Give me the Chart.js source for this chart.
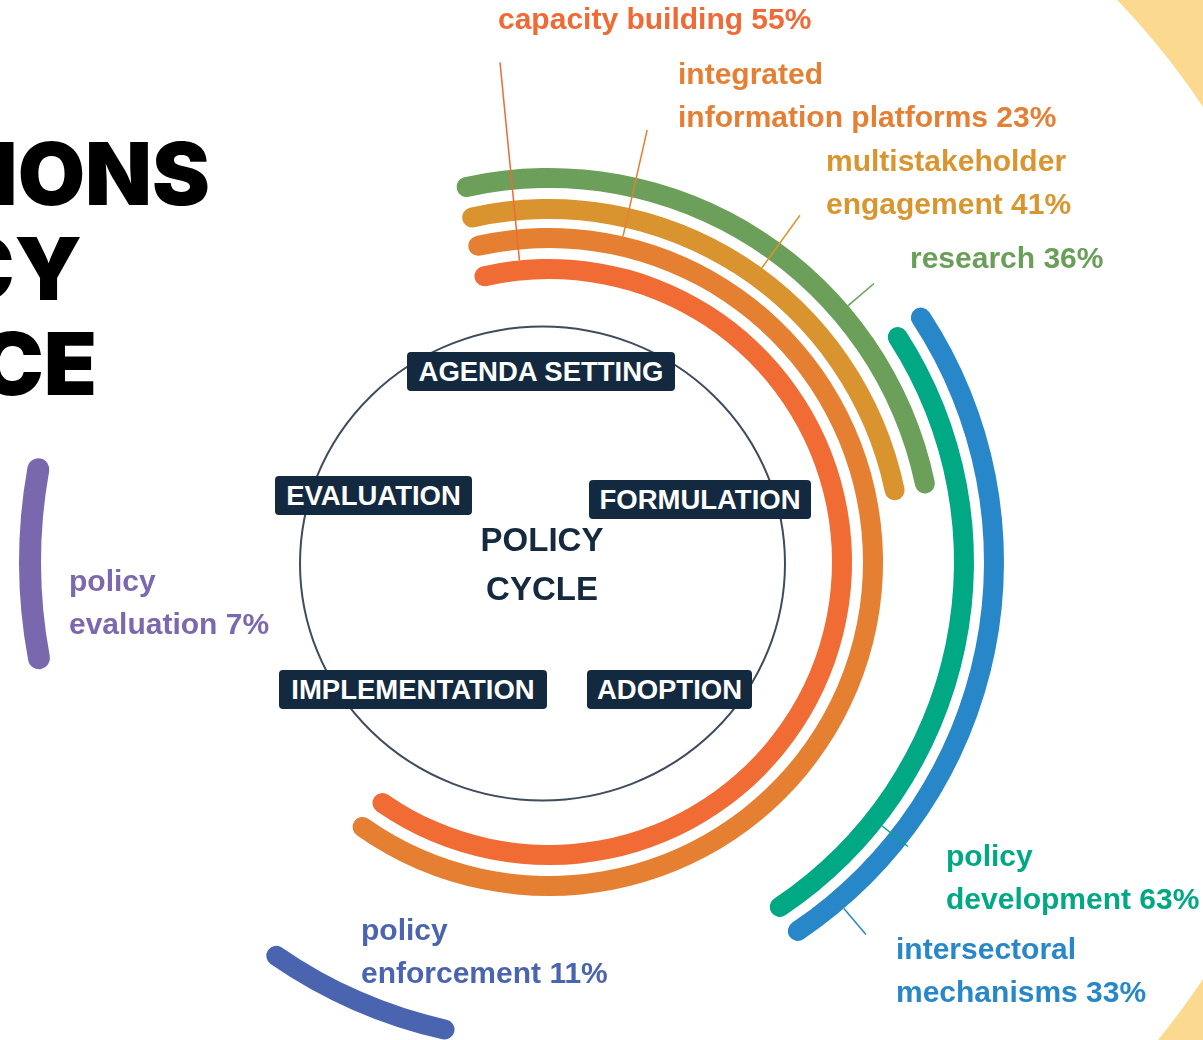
<!DOCTYPE html>
<html>
<head>
<meta charset="utf-8">
<title>Policy cycle</title>
<script src="https://cdn.jsdelivr.net/npm/chart.js@4.4.1/dist/chart.umd.min.js"></script>
<style>
  html, body { margin: 0; padding: 0; }
  body { width: 1203px; height: 1040px; overflow: hidden; position: relative; background: #fff;
         font-family: "Liberation Sans", Arial, sans-serif; }
  #cycleChart { position: absolute; left: -351px; top: -338px; }
  .title { position: absolute; font-family: Inter, "Noto Sans", sans-serif; font-weight: 900;
           font-size: 87px; line-height: 86px; color: #000; white-space: nowrap; text-align: right; }
  .stage { position: absolute; height: 39px; background: #13293f; color: #fff; border-radius: 4px;
           font-weight: bold; font-size: 27.5px; display: flex; align-items: center; justify-content: center;
           white-space: nowrap; }
  .center { position: absolute; left: 442px; width: 200px; text-align: center; color: #15293f;
            font-weight: bold; font-size: 33px; line-height: 49px; top: 515px; }
  .lbl { position: absolute; font-weight: bold; font-size: 30px; line-height: 43px; white-space: nowrap; }
</style>
</head>
<body>
<canvas id="cycleChart" width="1800" height="1800"></canvas>

<div class="title" style="top:131px; right:993px">IONS</div>
<div class="title" style="top:226px; right:1121px">CY</div>
<div class="title" style="top:321px; right:1106px">CE</div>

<div class="center">POLICY<br>CYCLE</div>

<script>
// series shown as rings, inside -> outside
var labels = ['capacity building', 'integrated information platforms', 'multistakeholder engagement', 'research',
              'policy development', 'intersectoral mechanisms', 'policy enforcement', 'policy evaluation'];
var labelLines = [['capacity building 55%'], ['integrated', 'information platforms 23%'],
                  ['multistakeholder', 'engagement 41%'], ['research 36%'], ['policy', 'development 63%'],
                  ['intersectoral', 'mechanisms 33%'], ['policy', 'enforcement 11%'], ['policy', 'evaluation 7%']];
var percents = [55, 23, 41, 36, 63, 33, 11, 7];
// part of the cycle each one covers, degrees clockwise from 12 o'clock
var arcStart = [-14.7, -14.4, -14.2, -13.9, 55.8, 55.4, 191.4, 258.1];
var arcEnd   = [216.6, 216.9, 79.9, 79.7, 147.6, 147.3, 215.9, 281.5];
var stages = ['AGENDA SETTING', 'FORMULATION', 'ADOPTION', 'IMPLEMENTATION', 'EVALUATION'];

var colors = ['#f16c34', '#e58032', '#d99430', '#6ca05a', '#00a884', '#2887c8', '#4a64b0', '#7a68af'];
var textColors = ['#ef6a35', '#e57f33', '#d9952f', '#6a9f59', '#00a884', '#2887c8', '#4a64b0', '#7b68b0'];

// layout
var ringRadius = [293, 324, 353, 384, 415, 445, 479, 519];
var ringWidth = [20, 20, 20, 20, 20, 20, 20, 22];
var labelPos = [[498, -3], [678, 52], [826, 139], [910, 236], [946, 834], [896, 927], [361, 908], [69, 559]];
var leader = [[-5.6, 502], [12.8, 443], [35.9, 428], [49.4, 428], [128.4, 458], [139.6, 489], null, null];
var stageBox = [[407, 352, 268], [589, 480, 222], [587, 670, 165], [279, 670, 268], [275, 476, 197]];
var rot = -20;
var clear = 'rgba(0,0,0,0)';

stages.forEach(function(s, i) {
  var d = document.createElement('div');
  d.className = 'stage';
  d.style.left = stageBox[i][0] + 'px';
  d.style.top = stageBox[i][1] + 'px';
  d.style.width = stageBox[i][2] + 'px';
  d.textContent = s;
  document.body.appendChild(d);
});

labelLines.forEach(function(lines, i) {
  var d = document.createElement('div');
  d.className = 'lbl';
  d.style.left = labelPos[i][0] + 'px';
  d.style.top = labelPos[i][1] + 'px';
  d.style.color = textColors[i];
  d.innerHTML = lines.join('<br>');
  document.body.appendChild(d);
});

// doughnut datasets go outside -> inside, with blank spacer rings between
var datasets = [];
var ringIndex = {};
var n = labels.length;
var innerEdge = ringRadius[0] - ringWidth[0] / 2;
var outerR = ringRadius[n - 1] + ringWidth[n - 1] / 2;
for (var i = n - 1; i >= 0; i--) {
  if (i < n - 1) {
    var gap = (ringRadius[i + 1] - ringWidth[i + 1] / 2) - (ringRadius[i] + ringWidth[i] / 2);
    datasets.push({ data: [1], backgroundColor: [clear], borderWidth: 0, weight: gap });
  }
  ringIndex[i] = datasets.length;
  datasets.push({
    label: labels[i],
    data: [arcStart[i] - rot, arcEnd[i] - arcStart[i], 360 - (arcEnd[i] - rot)],
    backgroundColor: [clear, colors[i], clear],
    borderWidth: 0,
    borderRadius: ringWidth[i] / 2,
    weight: ringWidth[i]
  });
}

var decor = {
  id: 'decor',
  beforeDraw: function(chart) {
    var ctx = chart.ctx;
    ctx.save();
    ctx.fillStyle = '#fbd98f';
    ctx.fillRect(0, 0, chart.width, chart.height);
    ctx.fillStyle = '#ffffff';
    ctx.beginPath();
    ctx.arc(900, 881, 786, 0, Math.PI * 2);
    ctx.fill();
    // policy cycle circle
    ctx.strokeStyle = '#3e4c5e';
    ctx.lineWidth = 2;
    ctx.beginPath();
    ctx.ellipse(893.5, 901.5, 242.5, 237, 0, 0, Math.PI * 2);
    ctx.stroke();
    ctx.restore();
  },
  afterDatasetsDraw: function(chart) {
    var ctx = chart.ctx;
    ctx.save();
    ctx.lineWidth = 1.5;
    leader.forEach(function(l, i) {
      if (!l) return;
      var arc = chart.getDatasetMeta(ringIndex[i]).data[1];
      var a = (l[0] - 90) * Math.PI / 180;
      ctx.strokeStyle = textColors[i];
      ctx.beginPath();
      ctx.moveTo(arc.x + arc.outerRadius * Math.cos(a), arc.y + arc.outerRadius * Math.sin(a));
      ctx.lineTo(arc.x + l[1] * Math.cos(a), arc.y + l[1] * Math.sin(a));
      ctx.stroke();
    });
    ctx.restore();
  }
};

var chart = new Chart(document.getElementById('cycleChart'), {
  type: 'doughnut',
  data: { datasets: datasets },
  options: {
    responsive: false,
    animation: false,
    events: [],
    rotation: rot,
    radius: outerR,
    cutout: (innerEdge / outerR * 100) + '%',
    plugins: { legend: { display: false }, tooltip: { enabled: false } }
  },
  plugins: [decor]
});
</script>
</body>
</html>
